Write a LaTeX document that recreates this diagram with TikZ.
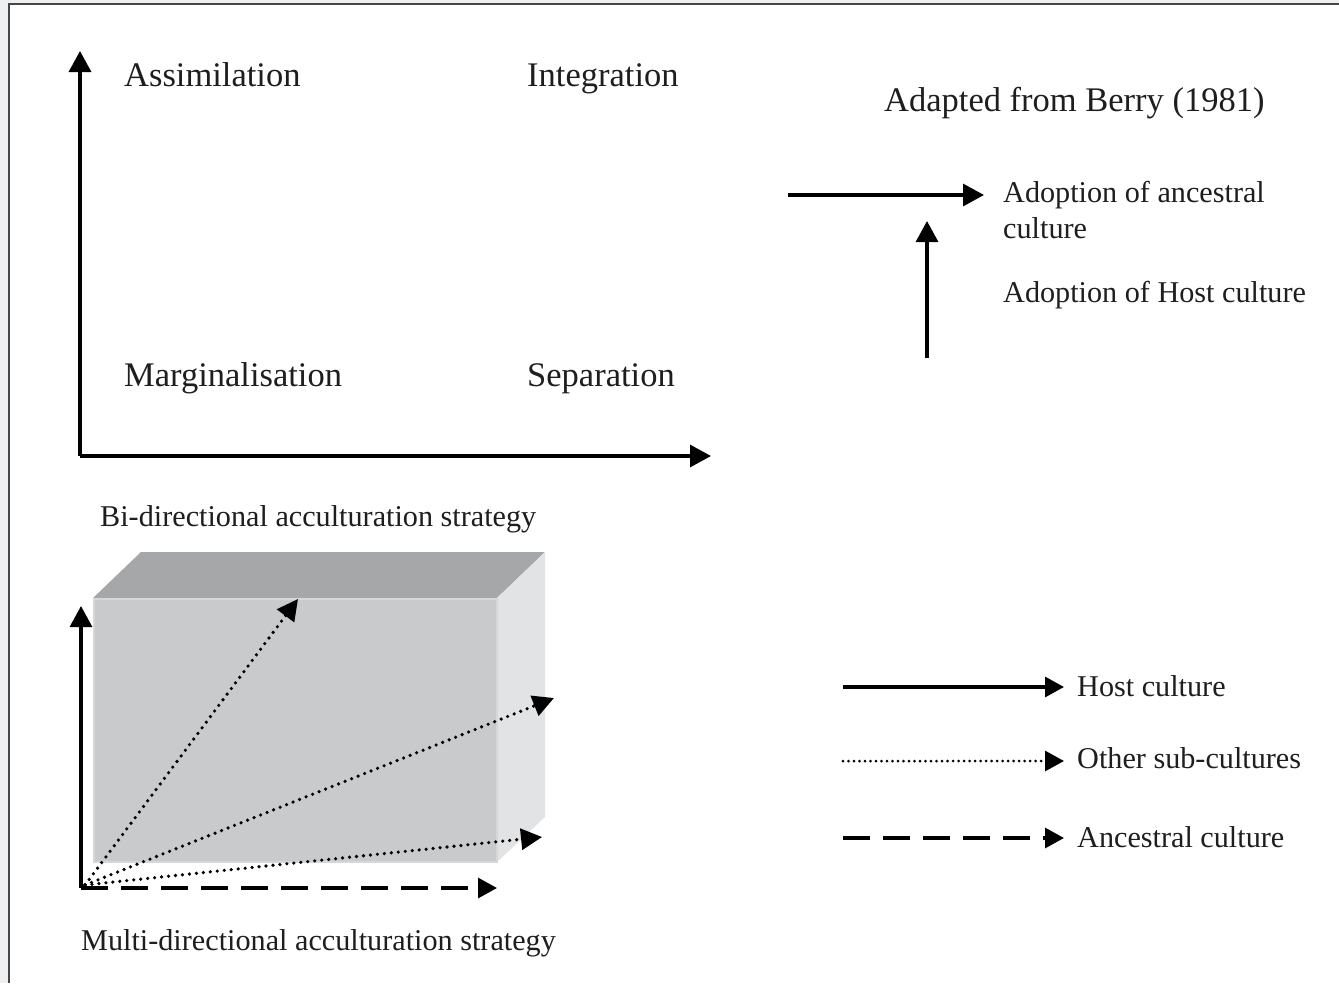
\documentclass[tikz,border=0pt]{standalone}
\usepackage{fontspec}
\setmainfont{Liberation Serif}
\usepackage{tikz}
\usetikzlibrary{arrows.meta}

\definecolor{pagegray}{RGB}{238,239,241}
\definecolor{framegray}{RGB}{70,70,72}
\definecolor{frontgray}{RGB}{201,202,204}
\definecolor{edgegray}{RGB}{214,215,217}
\definecolor{topgray}{RGB}{166,167,169}
\definecolor{sidegray}{RGB}{226,227,228}
\definecolor{inkgray}{RGB}{30,30,32}

\begin{document}
\begin{tikzpicture}[x=1pt,y=-1pt,
  big/.style={anchor=base west,inner sep=0pt,text=inkgray,font=\fontsize{34.5}{40}\selectfont},
  small/.style={anchor=base west,inner sep=0pt,text=inkgray,font=\fontsize{30.2}{36}\selectfont,align=left},
  axis/.style={line width=3.2pt,-{Triangle[length=21pt,width=22pt]}},
  legline/.style={line width=3.2pt,-{Triangle[length=19pt,width=20pt]}},
  dotline/.style={line width=3.6pt,line cap=round,dash pattern=on 0pt off 7pt,-{Triangle[length=21pt,width=21pt]}},
  fineline/.style={line width=3pt,line cap=round,dash pattern=on 0pt off 5.5pt,-{Triangle[length=19pt,width=20pt]}},
  dashline/.style={line width=3.2pt,dash pattern=on 27pt off 13pt,-{Triangle[length=19pt,width=20pt]}}]
\useasboundingbox (0,0) rectangle (1339,983);
% page and frame
\fill[pagegray] (0,0) rectangle (1339,983);
\fill[white] (9,4) rectangle (1339,983);
\draw[framegray,line width=1.5pt] (9,983)--(9,4)--(1339,4);

% bi-directional quadrants
\coordinate (bo) at (80,456);
\coordinate (by) at (80,51);
\coordinate (bx) at (711,456);
\draw[axis] (bo)--(by);
\draw[axis] (bo)--(bx);
\node[big] (assim) at (124,86) {Assimilation};
\node[big] (integ) at (527,86) {Integration};
\node[big] (margin) at (124,386) {Marginalisation};
\node[big] (separ) at (527,386) {Separation};
\node[small] (bicap) at (100,526) {Bi-directional acculturation strategy};

% key for the quadrants
\node[big] (berry) at (884,111) {Adapted from Berry (1981)};
\coordinate (ka) at (788,195);
\coordinate (kb) at (984,195);
\draw[axis] (ka)--(kb);
\node[small] (ancest) at (1003,238) {Adoption of ancestral\\culture};
\coordinate (kc) at (927,358);
\coordinate (kd) at (927,221);
\draw[axis] (kc)--(kd);
\node[small] (host) at (1003,302) {Adoption of Host culture};

% box
\fill[topgray] (93,598)--(141,552)--(545,552)--(497,598)--cycle;
\fill[sidegray] (497,598)--(545,552)--(545,817)--(497,862)--cycle;
\fill[frontgray,draw=edgegray,line width=2.5pt] (94,599) rectangle (497,862);

% multi-directional axes
\coordinate (mo) at (81,888);
\coordinate (my) at (81,606);
\coordinate (mx) at (497,888);
\coordinate (mp) at (85,885);
\coordinate (m1) at (298,599);
\coordinate (m2) at (554,698);
\coordinate (m3) at (542,837);
\draw[axis] (mo)--(my);
\draw[line width=3.2pt] (mo)--(106,888);
\draw[dashline] (mo)--(mx);
\draw[dotline] (mp)--(m1);
\draw[dotline] (mp)--(m2);
\draw[dotline] (mp)--(m3);
\node[small] (multicap) at (81,950) {Multi-directional acculturation strategy};

% legend
\coordinate (la) at (843,687);
\coordinate (lb) at (1064,687);
\coordinate (lc) at (843,761);
\coordinate (ld) at (1064,761);
\coordinate (le) at (843,838);
\coordinate (lf) at (1064,838);
\draw[legline] (la)--(lb);
\draw[fineline] (lc)--(ld);
\draw[dashline] (le)--(lf);
\node[small] (lhost) at (1077,696) {Host culture};
\node[small] (lother) at (1077,768) {Other sub-cultures};
\node[small] (lances) at (1077,847) {Ancestral culture};
\end{tikzpicture}
\end{document}
